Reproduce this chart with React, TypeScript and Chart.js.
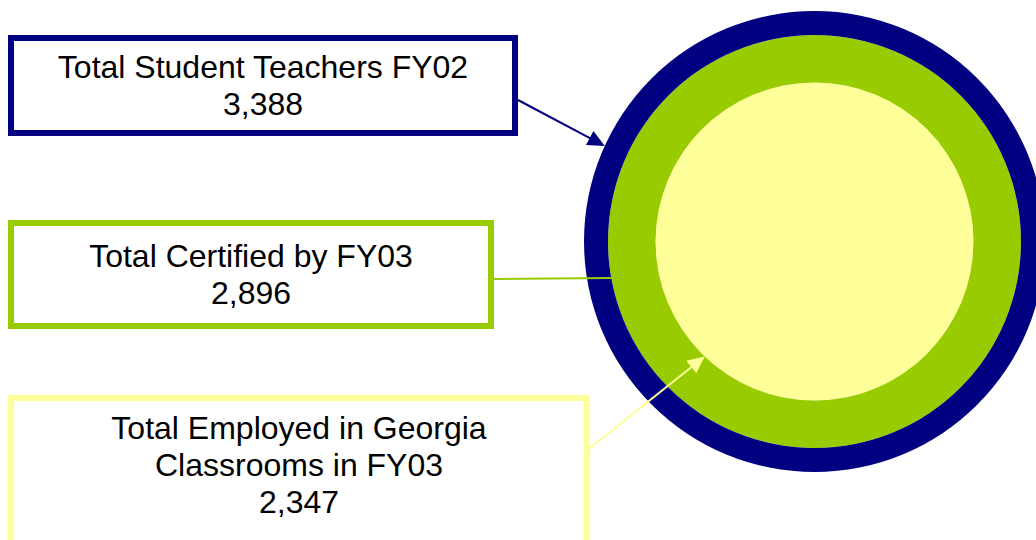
import React, { useEffect, useRef } from "react";
import { Chart, registerables } from "chart.js";

Chart.register(...registerables);

// ---- data ----
const categories = [
  "Total Student Teachers FY02",
  "Total Certified by FY03",
  "Total Employed in Georgia Classrooms in FY03",
];
const labelLines = [
  ["Total Student Teachers FY02"],
  ["Total Certified by FY03"],
  ["Total Employed in Georgia", "Classrooms in FY03"],
];
const values = [3388, 2896, 2347];

// ---- styles ----
const colors = ["#000080", "#99CC00", "#FFFF99"];
const ringWeights = [24, 47.5, 159];
const boxes = [
  { left: 8, top: 35, width: 510, height: 101, align: "center", padTop: 0 },
  { left: 8, top: 220, width: 486, height: 109, align: "center", padTop: 0 },
  { left: 8, top: 395, width: 582, height: 170, align: "flex-start", padTop: 9 },
];
// connector: anchor y on the box's right edge, angle (deg) on the ring's outer edge
const connectors = [
  { anchorY: 100, angle: 204.5, arrow: true, width: 2 },
  { anchorY: 279, angle: 169.8, arrow: false, width: 2 },
  { anchorY: 448, angle: 133.7, arrow: true, width: 2 },
];

const connectorPlugin = {
  id: "connectors",
  afterDatasetsDraw(chart: any) {
    const ctx = chart.ctx as CanvasRenderingContext2D;
    connectors.forEach((c, i) => {
      const arc = chart.getDatasetMeta(i).data[0];
      if (!arc) return;
      const p = arc.getProps(["x", "y", "outerRadius"], true);
      const a = (c.angle * Math.PI) / 180;
      const tx = p.x + p.outerRadius * Math.cos(a);
      const ty = p.y + p.outerRadius * Math.sin(a);
      const sx = boxes[i].left + boxes[i].width;
      const sy = c.anchorY;
      const dx = tx - sx;
      const dy = ty - sy;
      const len = Math.hypot(dx, dy);
      const ux = dx / len;
      const uy = dy / len;
      const headLen = c.arrow ? 17 : 0;
      const half = 8;
      ctx.save();
      ctx.strokeStyle = colors[i];
      ctx.fillStyle = colors[i];
      ctx.lineWidth = c.width;
      ctx.beginPath();
      ctx.moveTo(sx, sy);
      ctx.lineTo(tx - ux * headLen * 0.8, ty - uy * headLen * 0.8);
      ctx.stroke();
      if (c.arrow) {
        const bx = tx - ux * headLen;
        const by = ty - uy * headLen;
        ctx.beginPath();
        ctx.moveTo(tx, ty);
        ctx.lineTo(bx - uy * half, by + ux * half);
        ctx.lineTo(bx + uy * half, by - ux * half);
        ctx.closePath();
        ctx.fill();
      }
      ctx.restore();
    });
  },
};

export default function App() {
  const canvasRef = useRef<HTMLCanvasElement | null>(null);

  useEffect(() => {
    if (!canvasRef.current) return;
    const chart = new Chart(canvasRef.current, {
      type: "doughnut",
      data: {
        labels: [""],
        datasets: values.map((v, i) => ({
          label: categories[i],
          data: [v],
          backgroundColor: colors[i],
          borderWidth: 0,
          weight: ringWeights[i],
        })),
      },
      options: {
        responsive: false,
        maintainAspectRatio: false,
        devicePixelRatio: 1,
        animation: false,
        cutout: 0,
        layout: { padding: { left: 584, top: 11, right: 0, bottom: 68 } },
        plugins: {
          legend: { display: false },
          tooltip: { enabled: false },
        },
        events: [],
      },
      plugins: [connectorPlugin],
    } as any);
    return () => chart.destroy();
  }, []);

  return (
    <div
      style={{
        position: "fixed",
        left: 0,
        top: 0,
        width: 1036,
        height: 540,
        overflow: "hidden",
        background: "#ffffff",
      }}
    >
      <canvas
        ref={canvasRef}
        width={1045}
        height={540}
        style={{ position: "absolute", left: 0, top: 0, width: 1045, height: 540 }}
      />
      {boxes.map((b, i) => (
        <div
          key={i}
          style={{
            position: "absolute",
            left: b.left,
            top: b.top,
            width: b.width,
            height: b.height,
            boxSizing: "border-box",
            border: `6px solid ${colors[i]}`,
            background: "#ffffff",
            display: "flex",
            flexDirection: "column",
            justifyContent: b.align,
            paddingTop: b.padTop,
            fontFamily: '"Liberation Sans", Arial, sans-serif',
            fontSize: 32,
            lineHeight: "37px",
            color: "#000000",
            textAlign: "center",
          }}
        >
          {labelLines[i].map((t, j) => (
            <div key={j}>{t}</div>
          ))}
          <div>{values[i].toLocaleString("en-US")}</div>
        </div>
      ))}
    </div>
  );
}
